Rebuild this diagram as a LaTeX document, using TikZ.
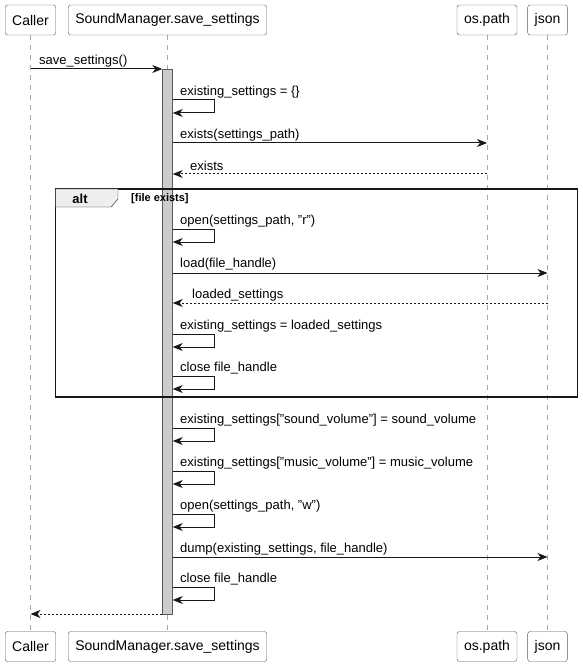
\documentclass[tikz,border=0pt]{standalone}
\usepackage{fontspec}
\setmainfont{Liberation Sans}
\usetikzlibrary{arrows.meta}
\definecolor{lifegray}{RGB}{168,168,168}
\definecolor{boxline}{RGB}{90,90,90}
\definecolor{barfill}{RGB}{204,204,204}
\definecolor{tabfill}{RGB}{238,238,238}
\definecolor{ink}{RGB}{24,24,24}
\newcommand\dq{\symbol{34}}
\begin{document}
\begin{tikzpicture}[x=1pt,y=-1pt,
        part/.style={draw=boxline,fill=white,rounded corners=2.5pt,inner xsep=7pt,
            minimum height=30pt,font=\fontsize{14}{16}\selectfont},
        life/.style={lifegray,dash pattern=on 5pt off 5pt},
        actbar/.style={draw=boxline,fill=barfill,inner sep=0pt,minimum width=10pt,minimum height=545pt},
        msg/.style={ink,line width=1pt,-{Stealth[length=10pt,width=8pt,inset=3pt]}},
        ret/.style={msg,dash pattern=on 2pt off 2pt},
        lbl/.style={anchor=west,inner sep=0pt,yshift=-1.5pt,font=\fontsize{13}{15}\selectfont}]
    \useasboundingbox (0,0) rectangle (582,668);
    % participants, top and bottom
    \foreach \p/\x/\txt in {caller/30.5/Caller,sm/167.5/SoundManager.save\_settings,
            osp/487/os.path,js/547.5/json} {
        \node[part] (\p-top) at (\x,20) {\txt};
        \node[part] (\p-bot) at (\x,646.5) {\txt};
        \draw[life] (\p-top) -- (\p-bot);
    }
    \node[actbar] (act) at (167.5,341.5) {};
    % alt frame
    \draw[ink,line width=1.5pt] (55.5,189) rectangle (577.5,397);
    \draw[ink,fill=tabfill] (55.5,189) -- (118,189) -- (118,199) -- (111,207) -- (55.5,207) -- cycle;
    \node[font=\bfseries\fontsize{13}{15}\selectfont] (altlbl) at (80,199) {alt};
    \node[lbl,font=\bfseries\fontsize{11}{13}\selectfont] (cond) at (131,197) {[file exists]};
    % calls
    \draw[msg] (caller-top |- 0,69) -- (act.west |- 0,69);
    \node[lbl] at (39,60) {save\_settings()};
    \foreach \y/\txt in {91/{existing\_settings = \{\}},220/{open(settings\_path, \dq r\dq)},
            325/{existing\_settings = loaded\_settings},367/{close file\_handle},
            419/{existing\_settings[\dq sound\_volume\dq] = sound\_volume},
            462/{existing\_settings[\dq music\_volume\dq] = music\_volume},
            505/{open(settings\_path, \dq w\dq)},578/{close file\_handle}} {
        \node[lbl] at (180,\y) {\txt};
        \draw[msg] (act.east |- 0,\y+9) -- ++(42,0) -- ++(0,13) -- (act.east |- 0,\y+22);
    }
    \draw[msg] (act.east |- 0,143) -- (osp-top |- 0,143);
    \node[lbl] at (180,134) {exists(settings\_path)};
    \draw[ret] (osp-top |- 0,174) -- (act.east |- 0,174);
    \node[lbl] at (190,164) {exists};
    \draw[msg] (act.east |- 0,273) -- (js-top |- 0,273);
    \node[lbl] at (180,263) {load(file\_handle)};
    \draw[ret] (js-top |- 0,303) -- (act.east |- 0,303);
    \node[lbl] at (192,294) {loaded\_settings};
    \draw[msg] (act.east |- 0,557) -- (js-top |- 0,557);
    \node[lbl] at (180,548) {dump(existing\_settings, file\_handle)};
    \draw[ret] (act.west |- 0,614) -- (caller-top |- 0,614);
\end{tikzpicture}
\end{document}
